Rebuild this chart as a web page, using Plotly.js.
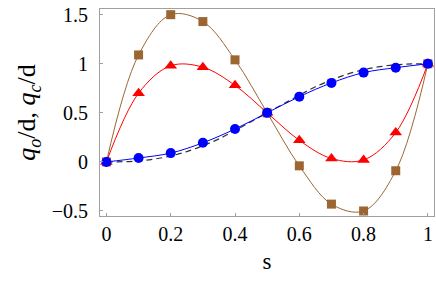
<!DOCTYPE html>
<html><head><meta charset="utf-8">
<script src="https://cdn.plot.ly/plotly-3.0.1.min.js"></script>
<style>html,body{margin:0;padding:0;background:#fff}#c{width:436px;height:284px}</style>
</head><body><div id="c"></div>
<script>
const s = [0, 0.1, 0.2, 0.3, 0.4, 0.5, 0.6, 0.7, 0.8, 0.9, 1];
const brown = [0, 1.09, 1.5, 1.43, 1.04, 0.5, -0.04, -0.43, -0.5, -0.09, 1];
const red = [0, 0.7, 0.98, 0.965, 0.78, 0.5, 0.22, 0.035, 0.02, 0.3, 1];
const blue = [0, 0.04, 0.09, 0.195, 0.335, 0.5, 0.665, 0.805, 0.91, 0.96, 1];
const sDash = [0, 0.05, 0.1, 0.15, 0.2, 0.25, 0.3, 0.35, 0.4, 0.45, 0.5, 0.55, 0.6, 0.65, 0.7, 0.75, 0.8, 0.85, 0.9, 0.95, 1];
const dash = [0, 0.002, 0.01, 0.03, 0.06, 0.105, 0.165, 0.235, 0.32, 0.41, 0.5, 0.59, 0.68, 0.765, 0.835, 0.895, 0.94, 0.97, 0.99, 0.998, 1];
const xTicks = [0, 0.2, 0.4, 0.6, 0.8, 1];
const xTickText = ['0', '0.2', '0.4', '0.6', '0.8', '1'];
const yTicks = [-0.5, 0, 0.5, 1, 1.5];
const yTickText = ['\u22120.5', '0', '0.5', '1', '1.5'];

const SERIF = 'Times New Roman, Liberation Serif, DejaVu Serif, serif';
const BROWN = '#9c6633', RED = '#ff0000', BLUE = '#0000ff';
const traces = [
  {x: s, y: brown, mode: 'lines', line: {color: BROWN, width: 1, shape: 'spline', smoothing: 1}, hoverinfo: 'skip'},
  {x: s, y: red, mode: 'lines', line: {color: RED, width: 1, shape: 'spline', smoothing: 1}, hoverinfo: 'skip'},
  {x: sDash, y: dash, mode: 'lines', line: {color: '#333', width: 1.2, dash: '6px,4px', shape: 'spline'}, hoverinfo: 'skip'},
  {x: s, y: blue, mode: 'lines', line: {color: BLUE, width: 1, shape: 'spline', smoothing: 1}, hoverinfo: 'skip'},
  {x: s, y: brown, mode: 'markers', marker: {symbol: 'square', size: 9, color: BROWN}},
  {x: s, y: red, mode: 'markers', marker: {symbol: 'triangle-up', size: 11, color: RED}},
  {x: s, y: blue, mode: 'markers', marker: {symbol: 'circle', size: 10, color: BLUE}}
];
const layout = {
  width: 436, height: 284,
  font: {family: SERIF, size: 20, color: '#000000'},
  margin: {l: 100, r: 2, t: 9, b: 68},
  paper_bgcolor: '#ffffff', plot_bgcolor: '#ffffff',
  showlegend: false,
  xaxis: {
    showgrid: false, zeroline: false, showline: true, mirror: true,
    linecolor: '#a0a0a0', linewidth: 1, ticks: 'inside', ticklen: 3, tickcolor: '#a0a0a0',
    tickfont: {family: SERIF, size: 20, color: '#000000'},
    range: [-0.02, 1.019], tickmode: 'array', tickvals: xTicks, ticktext: xTickText,
    title: {text: 's', font: {family: SERIF, size: 23, color: '#000000'}, standoff: 8}
  },
  yaxis: {
    showgrid: false, zeroline: false, showline: true, mirror: true,
    linecolor: '#a0a0a0', linewidth: 1, ticks: 'inside', ticklen: 3, tickcolor: '#a0a0a0',
    tickfont: {family: SERIF, size: 20, color: '#000000'},
    range: [-0.551, 1.558], tickmode: 'array', tickvals: yTicks, ticktext: yTickText,
    ticklabelstandoff: 7,
    title: {text: '<i>q</i><sub><i>o</i></sub>/d, <i>q</i><sub><i>c</i></sub>/d', font: {family: SERIF, size: 26, color: '#000000'}, standoff: 8}
  }
};
Plotly.newPlot('c', traces, layout, {staticPlot: true});
</script></body></html>
